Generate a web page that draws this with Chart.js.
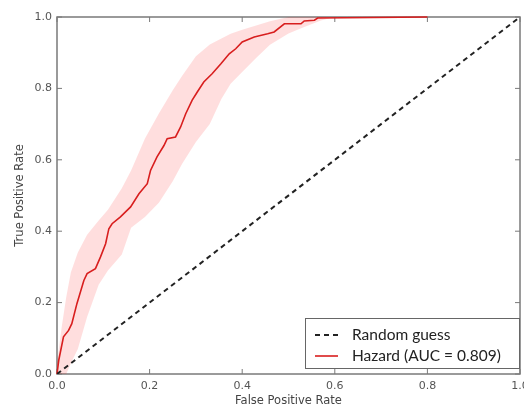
<!DOCTYPE html>
<html>
<head>
<meta charset="utf-8">
<script src="https://cdn.jsdelivr.net/npm/chart.js@4.4.0/dist/chart.umd.min.js"></script>
<style>
  html, body { margin: 0; padding: 0; background: #fff; }
</style>
</head>
<body>
<canvas id="roc-chart-id" width="524" height="408"></canvas>
<script>
// ===================== DATA =====================
const tickValues = [0, 0.2, 0.4, 0.6, 0.8, 1.0];

// random guess diagonal
const diagX = [0, 1];
const diagY = [0, 1];

// mean ROC curve
const rocX = [0, 0.004, 0.014, 0.025, 0.032, 0.043, 0.058, 0.065, 0.083, 0.094, 0.105, 0.112, 0.119, 0.137, 0.159, 0.177, 0.195, 0.202, 0.216, 0.231, 0.238, 0.256, 0.267, 0.278, 0.292, 0.303, 0.317, 0.335, 0.354, 0.372, 0.386, 0.40, 0.426, 0.455, 0.469, 0.491, 0.527, 0.534, 0.556, 0.563, 0.8];
const rocY = [0, 0.04, 0.104, 0.122, 0.141, 0.197, 0.262, 0.281, 0.295, 0.328, 0.365, 0.407, 0.421, 0.44, 0.468, 0.505, 0.533, 0.57, 0.608, 0.64, 0.659, 0.664, 0.692, 0.729, 0.767, 0.79, 0.818, 0.841, 0.869, 0.897, 0.911, 0.93, 0.944, 0.953, 0.958, 0.981, 0.981, 0.989, 0.991, 0.997, 1.0];

// spread band around the curve
const bandX = [0, 0.01, 0.02, 0.03, 0.045, 0.065, 0.09, 0.11, 0.14, 0.16, 0.19, 0.22, 0.25, 0.27, 0.3, 0.33, 0.355, 0.375, 0.4, 0.43, 0.46, 0.5, 0.53, 0.57, 0.6, 0.8, 1.0];
const bandUpper = [0.03, 0.13, 0.216, 0.285, 0.34, 0.39, 0.43, 0.46, 0.52, 0.57, 0.66, 0.73, 0.795, 0.835, 0.89, 0.923, 0.94, 0.953, 0.964, 0.976, 0.988, 1.0, 1.0, 1.0, 1.0, 1.0, 1.0];
const bandLower = [0, 0, 0, 0.03, 0.07, 0.16, 0.25, 0.29, 0.335, 0.41, 0.44, 0.48, 0.54, 0.588, 0.65, 0.70, 0.77, 0.813, 0.846, 0.885, 0.922, 0.954, 0.97, 0.99, 1.0, 1.0, 1.0];

const toPoints = (xs, ys) => xs.map((x, i) => ({ x: x, y: ys[i] }));

// frame + inward ticks on all four sides (matplotlib look)
const framePlugin = {
  id: 'frame',
  beforeDatasetsDraw(chart) {
    const { ctx, chartArea: a, scales } = chart;
    ctx.save();
    ctx.strokeStyle = '#7a7a7a';
    ctx.lineWidth = 1.5;
    ctx.strokeRect(a.left, a.top, a.right - a.left, a.bottom - a.top);
    ctx.lineWidth = 1;
    ctx.beginPath();
    scales.x.ticks.forEach(t => {
      const px = scales.x.getPixelForValue(t.value);
      ctx.moveTo(px, a.bottom); ctx.lineTo(px, a.bottom - 5);
      ctx.moveTo(px, a.top); ctx.lineTo(px, a.top + 5);
    });
    scales.y.ticks.forEach(t => {
      const py = scales.y.getPixelForValue(t.value);
      ctx.moveTo(a.left, py); ctx.lineTo(a.left + 5, py);
      ctx.moveTo(a.right, py); ctx.lineTo(a.right - 5, py);
    });
    ctx.stroke();
    ctx.restore();
  }
};

// legend box in the lower right corner
const legendPlugin = {
  id: 'insetLegend',
  afterDraw(chart) {
    const { ctx, chartArea: a } = chart;
    const entries = chart.data.datasets.filter(d => d.showInLegend);
    const w = 214, h = 50;
    const x0 = a.right - w - 1, y0 = a.bottom - h - 6;
    ctx.save();
    ctx.fillStyle = '#fff';
    ctx.fillRect(x0, y0, w, h);
    ctx.strokeStyle = '#666';
    ctx.lineWidth = 1;
    ctx.strokeRect(x0 + 0.5, y0 + 0.5, w, h);
    ctx.font = '15.5px Lato';
    ctx.textBaseline = 'middle';
    entries.forEach((d, i) => {
      const y = y0 + 17 + i * 21;
      ctx.strokeStyle = d.borderColor;
      ctx.lineWidth = d.borderWidth;
      ctx.setLineDash(d.borderDash || []);
      ctx.beginPath();
      ctx.moveTo(x0 + 10, y); ctx.lineTo(x0 + 33, y);
      ctx.stroke();
      ctx.setLineDash([]);
      ctx.fillStyle = '#222';
      ctx.fillText(d.label, x0 + 47, y);
    });
    ctx.restore();
  }
};

const rocCtx = document.getElementById('roc-chart-id');
new Chart(rocCtx, {
  type: 'scatter',
  data: {
    datasets: [
      {
        label: 'Random guess',
        showInLegend: true,
        data: toPoints(diagX, diagY),
        showLine: true,
        borderColor: '#222',
        borderWidth: 2,
        borderDash: [5, 4],
        pointRadius: 0,
        order: 1
      },
      {
        label: 'Hazard (AUC = 0.809)',
        showInLegend: true,
        data: toPoints(rocX, rocY),
        showLine: true,
        borderColor: '#d81e1e',
        borderWidth: 1.6,
        pointRadius: 0,
        clip: 3,
        order: 2
      },
      {
        label: 'upper',
        data: toPoints(bandX, bandUpper),
        showLine: true,
        borderWidth: 0,
        borderColor: 'rgba(0,0,0,0)',
        backgroundColor: 'rgba(255, 0, 0, 0.13)',
        fill: '+1',
        pointRadius: 0,
        order: 3
      },
      {
        label: 'lower',
        data: toPoints(bandX, bandLower),
        showLine: true,
        borderWidth: 0,
        borderColor: 'rgba(0,0,0,0)',
        pointRadius: 0,
        order: 4
      }
    ]
  },
  options: {
    responsive: false,
    animation: false,
    layout: { padding: { top: 17, right: 4, left: 0, bottom: 0 } },
    plugins: {
      legend: { display: false },
      tooltip: { enabled: false }
    },
    scales: {
      x: {
        type: 'linear',
        min: 0,
        max: 1,
        afterBuildTicks: s => { s.ticks = tickValues.map(v => ({ value: v })); },
        afterFit: s => { s.height = 34; s.paddingLeft = 0; s.paddingRight = 0; },
        grid: { display: false, drawTicks: false },
        border: { display: false },
        ticks: {
          padding: 6,
          color: '#555',
          font: { family: 'DejaVu Sans', size: 11 },
          maxRotation: 0,
          callback: v => v.toFixed(1)
        },
        title: {
          display: true,
          text: 'False Positive Rate',
          color: '#444',
          font: { family: 'DejaVu Sans', size: 11.5 },
          padding: { top: 0, bottom: 0 }
        }
      },
      y: {
        type: 'linear',
        min: 0,
        max: 1,
        afterBuildTicks: s => { s.ticks = tickValues.map(v => ({ value: v })); },
        afterFit: s => { s.width = 57; s.paddingTop = 0; s.paddingBottom = 0; },
        grid: { display: false, drawTicks: false },
        border: { display: false },
        ticks: {
          padding: 5,
          color: '#555',
          font: { family: 'DejaVu Sans', size: 11 },
          callback: v => v.toFixed(1)
        },
        title: {
          display: true,
          text: 'True Positive Rate',
          color: '#444',
          font: { family: 'DejaVu Sans', size: 11.5 },
          padding: { top: 13, bottom: 0 }
        }
      }
    }
  },
  plugins: [framePlugin, legendPlugin]
});
</script>
</body>
</html>
